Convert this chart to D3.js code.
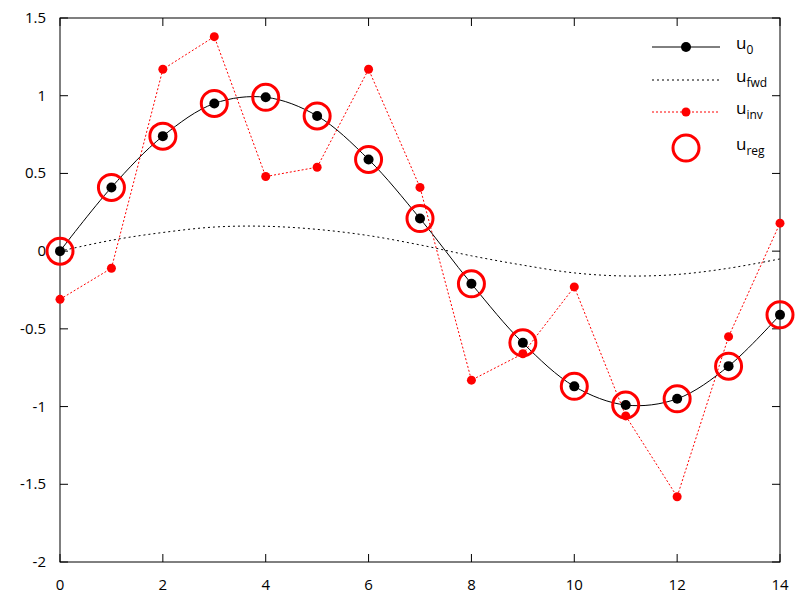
<!DOCTYPE html>
<html><head><meta charset="utf-8">
<script src="https://cdn.jsdelivr.net/npm/d3@7"></script>
<style>body{margin:0;background:#fff}text{font-family:"Open Sans",sans-serif;font-size:15px}</style>
</head><body>
<script>
const xs = [0,1,2,3,4,5,6,7,8,9,10,11,12,13,14];
const u0 = [0,0.41,0.74,0.95,0.99,0.87,0.59,0.21,-0.21,-0.59,-0.87,-0.99,-0.95,-0.74,-0.41];
const ufwd = [0,0.07,0.12,0.155,0.16,0.14,0.10,0.04,-0.03,-0.09,-0.14,-0.16,-0.15,-0.11,-0.05];
const uinv = [-0.31,-0.11,1.17,1.38,0.48,0.54,1.17,0.41,-0.83,-0.66,-0.23,-1.06,-1.58,-0.55,0.18];
const ureg = [0,0.41,0.74,0.95,0.99,0.87,0.59,0.21,-0.21,-0.59,-0.87,-0.99,-0.95,-0.74,-0.41];
const xTicks = [0,2,4,6,8,10,12,14];
const yTicks = [-2,-1.5,-1,-0.5,0,0.5,1,1.5];

const W=800,H=616,L=60,R=780,T=18,B=562;
const svg=d3.select("body").append("svg").attr("width",W).attr("height",H);
const x=d3.scaleLinear().domain([0,14]).range([L,R]);
const y=d3.scaleLinear().domain([-2,1.5]).range([B,T]);

// ticks (mirrored, inward)
xTicks.forEach(t=>{
  svg.append("line").attr("x1",x(t)).attr("x2",x(t)).attr("y1",B).attr("y2",B-8).attr("stroke","#000");
  svg.append("line").attr("x1",x(t)).attr("x2",x(t)).attr("y1",T).attr("y2",T+8).attr("stroke","#000");
  svg.append("text").attr("x",x(t)).attr("y",B+28).attr("text-anchor","middle").text(t);
});
yTicks.forEach(t=>{
  svg.append("line").attr("x1",L).attr("x2",L+8).attr("y1",y(t)).attr("y2",y(t)).attr("stroke","#000");
  svg.append("line").attr("x1",R).attr("x2",R-8).attr("y1",y(t)).attr("y2",y(t)).attr("stroke","#000");
  svg.append("text").attr("x",L-14).attr("y",y(t)+5).attr("text-anchor","end").text(t);
});
svg.append("rect").attr("x",L).attr("y",T).attr("width",R-L).attr("height",B-T).attr("fill","none").attr("stroke","#000");

const smooth=d3.line().x((d,i)=>x(xs[i])).y(d=>y(d)).curve(d3.curveCatmullRom);
const straight=d3.line().x((d,i)=>x(xs[i])).y(d=>y(d));

svg.append("path").attr("d",smooth(ufwd)).attr("fill","none").attr("stroke","#000").attr("stroke-dasharray","2,3");
svg.append("path").attr("d",straight(uinv)).attr("fill","none").attr("stroke","#f00").attr("stroke-dasharray","2,2");
svg.append("path").attr("d",smooth(u0)).attr("fill","none").attr("stroke","#000");
svg.selectAll(".inv").data(uinv).enter().append("circle").attr("cx",(d,i)=>x(xs[i])).attr("cy",d=>y(d)).attr("r",4.5).attr("fill","#f00");
svg.selectAll(".u0").data(u0).enter().append("circle").attr("cx",(d,i)=>x(xs[i])).attr("cy",d=>y(d)).attr("r",5).attr("fill","#000");
svg.selectAll(".reg").data(ureg).enter().append("circle").attr("cx",(d,i)=>x(xs[i])).attr("cy",d=>y(d)).attr("r",13).attr("fill","none").attr("stroke","#f00").attr("stroke-width",3);

// legend
const lg=[{n:"0",ly:47},{n:"fwd",ly:80},{n:"inv",ly:112},{n:"reg",ly:148}];
const lx1=652,lx2=720;
svg.append("line").attr("x1",lx1).attr("x2",lx2).attr("y1",47).attr("y2",47).attr("stroke","#000");
svg.append("circle").attr("cx",686).attr("cy",47).attr("r",5).attr("fill","#000");
svg.append("line").attr("x1",lx1).attr("x2",lx2).attr("y1",80).attr("y2",80).attr("stroke","#000").attr("stroke-dasharray","2,3");
svg.append("line").attr("x1",lx1).attr("x2",lx2).attr("y1",112).attr("y2",112).attr("stroke","#f00").attr("stroke-dasharray","2,2");
svg.append("circle").attr("cx",686).attr("cy",112).attr("r",4.5).attr("fill","#f00");
svg.append("circle").attr("cx",686).attr("cy",148).attr("r",13).attr("fill","none").attr("stroke","#f00").attr("stroke-width",3);
lg.forEach(d=>{
  const t=svg.append("text").attr("x",736).attr("y",d.ly+2).style("font-size","17px");
  t.append("tspan").text("u");
  t.append("tspan").attr("dy",5).style("font-size","12px").text(d.n);
});
</script>
</body></html>
